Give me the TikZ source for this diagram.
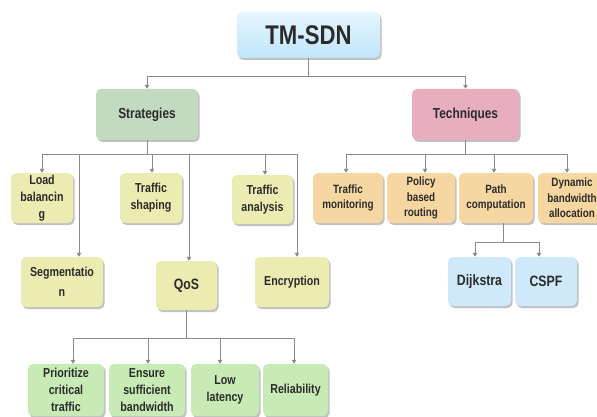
\documentclass[tikz,border=0pt]{standalone}
\usepackage{fontspec}
\setmainfont{Liberation Sans}[FakeStretch=0.82]
\usetikzlibrary{shadows,arrows.meta}

\definecolor{ink}{HTML}{2B2B2B}
\definecolor{wire}{HTML}{8A8A8A}
\definecolor{rootTop}{HTML}{E6F6FE}
\definecolor{rootBot}{HTML}{BFE5FA}
\definecolor{sage}{HTML}{C2DABF}
\definecolor{rose}{HTML}{E8ADBF}
\definecolor{straw}{HTML}{ECEBB2}
\definecolor{peach}{HTML}{F7D7A1}
\definecolor{sky}{HTML}{CFE9FA}
\definecolor{mint}{HTML}{C8EBB5}

\tikzset{
  box/.style={rectangle, rounded corners=5pt, draw=none, align=center,
    inner sep=0pt, text=ink,
    font=\bfseries\fontsize{13}{17}\selectfont,
    drop shadow={shadow xshift=1.5pt, shadow yshift=-2pt, opacity=0.35, fill=black!70}},
  rootbox/.style={box, top color=rootTop, bottom color=rootBot,
    font=\bfseries\fontsize{27}{30}\selectfont},
  headbox/.style={box, font=\bfseries\fontsize{14.5}{17}\selectfont},
  stratbox/.style={box, fill=straw},
  techbox/.style={box, fill=peach, font=\bfseries\fontsize{12}{15.5}\selectfont},
  algbox/.style={box, fill=sky, font=\bfseries\fontsize{15}{17}\selectfont},
  qosbox/.style={box, fill=mint},
  conn/.style={draw=wire, line width=1pt,
    -{Triangle[length=4pt,width=4.5pt]}},
  trunk/.style={draw=wire, line width=1pt}
}

\begin{document}
\begin{tikzpicture}[x=1pt, y=-1pt]
\useasboundingbox (0,0) rectangle (597,417);

% root and the two main branches
\node[rootbox, minimum width=143pt, minimum height=46pt] (root) at (308.5,35) {TM-SDN};
\node[headbox, fill=sage, minimum width=102pt, minimum height=51pt] (strat) at (147,114.5) {Strategies};
\node[headbox, fill=rose, minimum width=107pt, minimum height=51pt] (tech) at (465.5,114.5) {Techniques};

% strategies
\node[stratbox, minimum width=62pt, minimum height=50pt] (load) at (42,198) {Load\\balancin\\g};
\node[stratbox, minimum width=62pt, minimum height=50pt] (shape) at (151,198) {Traffic\\shaping};
\node[stratbox, minimum width=61pt, minimum height=49pt] (anal) at (262.5,199.5) {Traffic\\analysis};
\node[stratbox, minimum width=82pt, minimum height=50pt] (seg) at (62,282) {Segmentatio\\[3pt]n};
\node[stratbox, minimum width=61pt, minimum height=49pt, font=\bfseries\fontsize{15}{17}\selectfont] (qos) at (186.5,285.5) {QoS};
\node[stratbox, minimum width=74pt, minimum height=50pt] (enc) at (292,282) {Encryption};

% techniques
\node[techbox, minimum width=70pt, minimum height=50pt] (mon) at (348,198) {Traffic\\monitoring};
\node[techbox, minimum width=68pt, minimum height=50pt] (pbr) at (421,198) {Policy\\based\\routing};
\node[techbox, minimum width=74pt, minimum height=50pt] (path) at (496,198) {Path\\computation};
\node[techbox, minimum width=68pt, minimum height=50pt] (dyn) at (572,198) {Dynamic\\bandwidth\\allocation};

% path computation algorithms
\node[algbox, minimum width=63pt, minimum height=49pt] (dij) at (479.5,281.5) {Dijkstra};
\node[algbox, minimum width=62pt, minimum height=49pt] (cspf) at (546,281.5) {CSPF};

% QoS goals
\node[qosbox, minimum width=76pt, minimum height=52pt] (prio) at (66,390) {Prioritize\\critical\\traffic};
\node[qosbox, minimum width=76pt, minimum height=52pt] (ens) at (147,390) {Ensure\\sufficient\\bandwidth};
\node[qosbox, minimum width=68pt, minimum height=52pt] (low) at (225,390) {Low\\latency};
\node[qosbox, minimum width=65pt, minimum height=52pt] (rel) at (295.5,390) {Reliability};

% bus levels
\coordinate (busA) at (0,77);
\coordinate (busS) at (0,155);
\coordinate (busP) at (0,242);
\coordinate (busQ) at (0,338);

% root -> branches
\draw[trunk] (root.south) -- (root.south |- busA);
\draw[conn] (root.south |- busA) -| (strat.north);
\draw[conn] (root.south |- busA) -| (tech.north);

% strategies
\draw[trunk] (strat.south) -- (strat.south |- busS);
\draw[conn] (strat.south |- busS) -| (load.north);
\draw[conn] (strat.south |- busS) -| ([xshift=17pt]seg.north);
\draw[conn] (strat.south |- busS) -| ([xshift=1pt]shape.north);
\draw[conn] (strat.south |- busS) -| ([xshift=2.5pt]qos.north);
\draw[conn] (strat.south |- busS) -| ([xshift=2.5pt]anal.north);
\draw[conn] (strat.south |- busS) -| ([xshift=5pt]enc.north);

% techniques
\draw[trunk] (tech.south) -- (tech.south |- busS);
\draw[conn] (tech.south |- busS) -| ([xshift=-2pt]mon.north);
\draw[conn] (tech.south |- busS) -| ([xshift=4pt]pbr.north);
\draw[conn] (tech.south |- busS) -| ([xshift=-2pt]path.north);
\draw[conn] (tech.south |- busS) -| ([xshift=-5pt]dyn.north);

% path computation
\draw[trunk] ([xshift=7pt]path.south) -- ([xshift=7pt]path.south |- busP);
\draw[conn] ([xshift=7pt]path.south |- busP) -| ([xshift=-4.5pt]dij.north);
\draw[conn] ([xshift=7pt]path.south |- busP) -| ([xshift=-7pt]cspf.north);

% QoS
\draw[trunk] (qos.south) -- (qos.south |- busQ);
\draw[conn] (qos.south |- busQ) -| ([xshift=7pt]prio.north);
\draw[conn] (qos.south |- busQ) -| ([xshift=1pt]ens.north);
\draw[conn] (qos.south |- busQ) -| ([xshift=-5pt]low.north);
\draw[conn] (qos.south |- busQ) -| ([xshift=-1.5pt]rel.north);
\end{tikzpicture}
\end{document}
